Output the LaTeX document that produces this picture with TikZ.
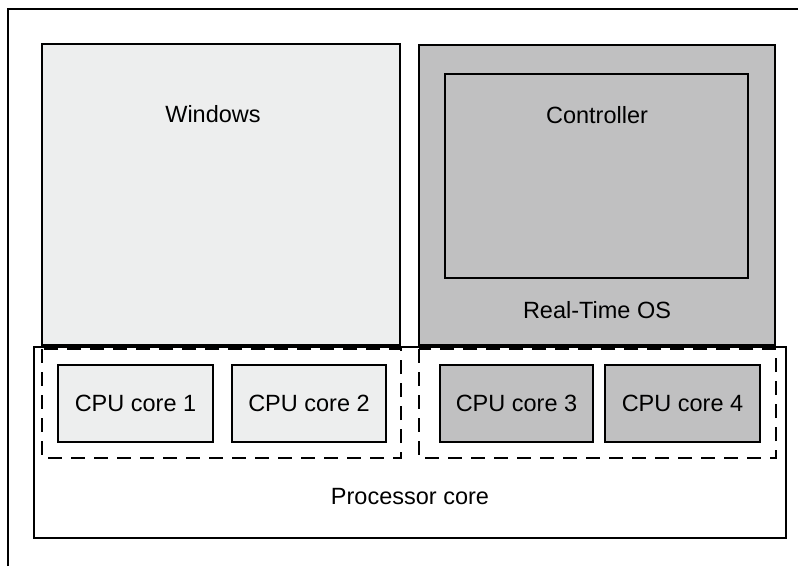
\documentclass[tikz,border=0pt]{standalone}
\usepackage{fontspec}
\setmainfont{Liberation Sans}
\definecolor{lightbox}{RGB}{237,238,238}
\definecolor{darkbox}{RGB}{192,192,193}
\begin{document}
\begin{tikzpicture}[x=1pt,y=-1pt,
  box/.style={draw=black,line width=2.4pt},
  grp/.style={draw=black,line width=2.4pt,dash pattern=on 14pt off 9pt},
  lbl/.style={font=\fontsize{23.5}{28}\selectfont,inner sep=0pt}]
\useasboundingbox (0,0) rectangle (798,566);
% outer frame (cropped)
\draw[line width=2.4pt] (8,566) -- (8,9) -- (798,9);
% Processor core
\draw[box,fill=white] (34,347) rectangle (786,538);
% Windows
\draw[box,fill=lightbox] (42,44) rectangle (400,345);
% Real-Time OS
\draw[box,fill=darkbox] (419,45) rectangle (775,345);
\draw[box,fill=darkbox] (445,74) rectangle (748,278);
% dashed groups
\draw[grp] (42,349) rectangle (401,458);
\draw[grp] (419,349) rectangle (776,458);
% CPU cores
\draw[box,fill=lightbox] (58,365) rectangle (213,442);
\draw[box,fill=lightbox] (232,365) rectangle (386,442);
\draw[box,fill=darkbox] (440,365) rectangle (593,442);
\draw[box,fill=darkbox] (605,365) rectangle (760,442);
% labels
\node[lbl] (win) at (213,114) {Windows};
\node[lbl] (ctl) at (597,115) {Controller};
\node[lbl] (rtos) at (597,310) {Real-Time OS};
\node[lbl] (proc) at (410,497) {Processor core};
\node[lbl] (c1) at (135.5,403) {CPU core 1};
\node[lbl] (c2) at (309,403) {CPU core 2};
\node[lbl] (c3) at (516.5,403) {CPU core 3};
\node[lbl] (c4) at (682.5,403) {CPU core 4};
\end{tikzpicture}
\end{document}
